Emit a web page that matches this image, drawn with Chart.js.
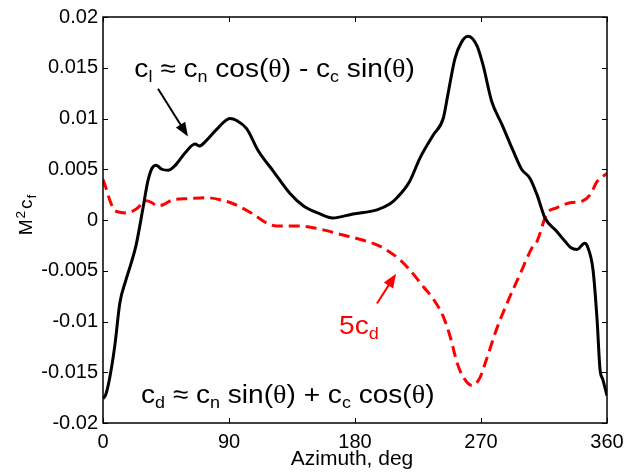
<!DOCTYPE html>
<html>
<head>
<meta charset="utf-8">
<script src="https://cdn.jsdelivr.net/npm/chart.js@4.4.1/dist/chart.umd.min.js"></script>
<style>
  html, body { margin: 0; padding: 0; background: #fff; }
  #wrap { width: 640px; height: 476px; }
</style>
</head>
<body>
<div id="wrap"><canvas id="chart" width="640" height="476"></canvas></div>
<script>
// azimuth (deg) and M^2 c_f
const clAz = [0, 2, 5, 8.6, 12, 16.4, 20, 23.6, 28.6, 32, 35, 38, 42, 46.6, 51, 58.6, 65.7, 69, 72.9, 81, 90.7, 95.5, 102.6, 111, 121.7, 133.6, 143, 155, 164, 178.6, 195.7, 205, 210, 219, 226.4, 236, 243, 246.4, 251.4, 256, 260.7, 267, 271.4, 277.6, 285, 293, 299, 305, 310, 315.7, 324, 330, 334, 338.6, 344, 346, 350, 352.9, 355, 357, 360];
const clVal = [-0.0176, -0.0172, -0.0154, -0.0122, -0.0082, -0.0059, -0.0043, -0.0025, 0.0012, 0.0038, 0.0051, 0.0054, 0.0050, 0.0049, 0.0053, 0.0066, 0.0075, 0.0073, 0.0077, 0.0089, 0.0100, 0.0098, 0.0090, 0.0068, 0.0048, 0.0026, 0.0014, 0.0006, 0.0002, 0.0006, 0.0010, 0.0016, 0.0022, 0.0038, 0.0061, 0.0084, 0.0100, 0.0124, 0.0159, 0.0175, 0.0181, 0.0172, 0.0153, 0.0117, 0.0094, 0.0068, 0.0050, 0.0041, 0.0025, 0.0002, -0.0011, -0.0021, -0.0027, -0.0029, -0.0023, -0.0026, -0.0049, -0.0098, -0.0147, -0.0157, -0.0173];

const cdAz = [0, 2, 5, 8.6, 17, 24, 31, 35, 38.6, 43, 50, 60, 74, 83.6, 93, 107, 117, 124, 141, 155, 169, 186, 198, 212, 219, 229, 236, 243, 248, 253, 257, 263.6, 269, 274, 281, 288.6, 298, 307, 310, 317, 324, 333.6, 343, 348, 353, 360];
const cdVal = [0.0040, 0.0032, 0.0019, 0.0009, 0.0007, 0.0011, 0.0019, 0.0017, 0.0014, 0.0015, 0.0020, 0.0021, 0.0022, 0.0020, 0.0016, 0.0006, -0.0003, -0.0006, -0.0006, -0.0009, -0.0014, -0.0020, -0.0026, -0.0039, -0.0049, -0.0066, -0.0078, -0.0095, -0.0115, -0.0141, -0.0154, -0.0163, -0.0156, -0.0137, -0.0108, -0.0082, -0.0053, -0.0026, -0.0021, 0.0006, 0.0012, 0.0017, 0.0019, 0.0025, 0.0038, 0.0046];

const xTicks = [0, 90, 180, 270, 360];
const yTicks = [-0.02, -0.015, -0.01, -0.005, 0, 0.005, 0.01, 0.015, 0.02];
const yLabels = ["-0.02", "-0.015", "-0.01", "-0.005", "0", "0.005", "0.01", "0.015", "0.02"];

const FONT = "'Liberation Sans', Arial, sans-serif";
const SERIF = "'Liberation Serif', 'DejaVu Serif', serif";

const toPoints = (xs, ys) => xs.map((x, i) => ({ x: x, y: ys[i] }));

// text made of parts: [text, kind, gapAfter]; kind = "sub" | "sup" | "serif" | undefined
function richText(ctx, parts, x, y, size, opts) {
  opts = opts || {};
  const small = opts.small || 0.62;
  const stretch = opts.stretch || 1;
  ctx.save();
  ctx.translate(x, y);
  ctx.scale(stretch, 1);
  let cx = 0;
  parts.forEach(([t, kind, gap]) => {
    const s = kind === "sub" || kind === "sup" ? size * small : size;
    const dy = kind === "sub" ? size * 0.2 : kind === "sup" ? -size * 0.36 : 0;
    ctx.font = s + "px " + (kind === "serif" ? SERIF : FONT);
    if (!opts.measure) ctx.fillText(t, cx, dy);
    cx += ctx.measureText(t).width + (gap || 0);
  });
  ctx.restore();
  return cx * stretch;
}

function arrow(ctx, x0, y0, x1, y1, color) {
  const a = Math.atan2(y1 - y0, x1 - x0);
  const L = 14, W = 5.5;
  ctx.strokeStyle = color;
  ctx.fillStyle = color;
  ctx.lineWidth = 2;
  ctx.beginPath();
  ctx.moveTo(x0, y0);
  ctx.lineTo(x1 - Math.cos(a) * L * 0.8, y1 - Math.sin(a) * L * 0.8);
  ctx.stroke();
  ctx.beginPath();
  ctx.moveTo(x1, y1);
  ctx.lineTo(x1 - Math.cos(a) * L - Math.sin(a) * W, y1 - Math.sin(a) * L + Math.cos(a) * W);
  ctx.lineTo(x1 - Math.cos(a) * L + Math.sin(a) * W, y1 - Math.sin(a) * L - Math.cos(a) * W);
  ctx.closePath();
  ctx.fill();
}

const framePlugin = {
  id: "frame",
  afterDraw(chart) {
    const { ctx, chartArea: ca, scales } = chart;
    const sx = scales.x, sy = scales.y;
    ctx.save();

    // box
    ctx.strokeStyle = "#000";
    ctx.lineWidth = 1.5;
    ctx.strokeRect(ca.left, ca.top, ca.right - ca.left, ca.bottom - ca.top);

    // inward ticks on all four sides
    ctx.lineWidth = 1;
    const tl = 5;
    ctx.beginPath();
    xTicks.forEach(v => {
      const px = Math.round(sx.getPixelForValue(v)) + 0.5;
      ctx.moveTo(px, ca.bottom); ctx.lineTo(px, ca.bottom - tl);
      ctx.moveTo(px, ca.top); ctx.lineTo(px, ca.top + tl);
    });
    yTicks.forEach(v => {
      const py = Math.round(sy.getPixelForValue(v)) + 0.5;
      ctx.moveTo(ca.left, py); ctx.lineTo(ca.left + tl, py);
      ctx.moveTo(ca.right, py); ctx.lineTo(ca.right - tl, py);
    });
    ctx.stroke();

    ctx.textBaseline = "alphabetic";
    ctx.textAlign = "left";
    ctx.fillStyle = "#000";

    // x title
    ctx.font = "21px " + FONT;
    ctx.textAlign = "center";
    ctx.fillText("Azimuth, deg", 352, 465);
    ctx.textAlign = "left";

    // y title
    const yt = [["M", null, 1], ["2", "sup", 2], ["c", null, 1], ["f", "sub"]];
    const yo = { small: 0.72 };
    const w = richText(ctx, yt, 0, 0, 19, Object.assign({ measure: true }, yo));
    ctx.save();
    ctx.translate(32, 215);
    ctx.rotate(-Math.PI / 2);
    richText(ctx, yt, -w / 2, 0, 19, yo);
    ctx.restore();

    // annotations, anchored in data units
    const P = (az, v) => [sx.getPixelForValue(az), sy.getPixelForValue(v)];
    const ao = { stretch: 1.08, small: 0.64 };
    let p = P(22.4, 0.0141);
    richText(ctx, [["c"], ["l", "sub"], [" \u2248 c"], ["n", "sub"], [" cos("], ["\u03b8", "serif"], [") - c"], ["c", "sub"], [" sin("], ["\u03b8", "serif"], [")"]], p[0], p[1], 26, ao);
    p = P(27.1, -0.0180);
    richText(ctx, [["c"], ["d", "sub"], [" \u2248 c"], ["n", "sub"], [" sin("], ["\u03b8", "serif"], [") + c"], ["c", "sub"], [" cos("], ["\u03b8", "serif"], [")"]], p[0], p[1], 26, ao);
    ctx.fillStyle = "#ff0000";
    p = P(168.6, -0.0112);
    richText(ctx, [["5c"], ["d", "sub"]], p[0], p[1], 26, ao);

    let a = P(39.3, 0.01294), b = P(60.7, 0.00823);
    arrow(ctx, a[0], a[1], b[0], b[1], "#000");
    a = P(195.7, -0.00823); b = P(209.3, -0.00529);
    arrow(ctx, a[0], a[1], b[0], b[1], "#ff0000");

    ctx.restore();
  }
};

new Chart(document.getElementById("chart"), {
  type: "line",
  data: {
    datasets: [
      {
        label: "cl",
        data: toPoints(clAz, clVal),
        borderColor: "#000",
        borderWidth: 3,
        pointRadius: 0,
        cubicInterpolationMode: "monotone",
        fill: false,
      },
      {
        label: "5cd",
        data: toPoints(cdAz, cdVal),
        borderColor: "#ff0000",
        borderWidth: 3,
        borderDash: [11, 6],
        pointRadius: 0,
        cubicInterpolationMode: "monotone",
        fill: false,
      },
    ],
  },
  options: {
    responsive: false,
    animation: false,
    devicePixelRatio: 1,
    layout: { padding: { left: 0, top: 15, right: 33, bottom: 0 } },
    plugins: { legend: { display: false }, tooltip: { enabled: false } },
    scales: {
      x: {
        type: "linear",
        min: 0,
        max: 360,
        afterBuildTicks: (s) => { s.ticks = xTicks.map(v => ({ value: v })); },
        afterFit: (s) => { s.height = 53; },
        grid: { display: false, drawTicks: false },
        border: { display: false },
        ticks: {
          color: "#000",
          padding: 7,
          maxRotation: 0,
          font: { family: FONT, size: 20 },
          callback: (v) => String(v),
        },
      },
      y: {
        type: "linear",
        min: -0.02,
        max: 0.02,
        afterBuildTicks: (s) => { s.ticks = yTicks.map(v => ({ value: v })); },
        afterFit: (s) => { s.width = 103; },
        grid: { display: false, drawTicks: false },
        border: { display: false },
        ticks: {
          color: "#000",
          padding: 5,
          font: { family: FONT, size: 20 },
          callback: (v) => yLabels[yTicks.findIndex(t => Math.abs(t - v) < 1e-9)],
        },
      },
    },
  },
  plugins: [framePlugin],
});
</script>
</body>
</html>
